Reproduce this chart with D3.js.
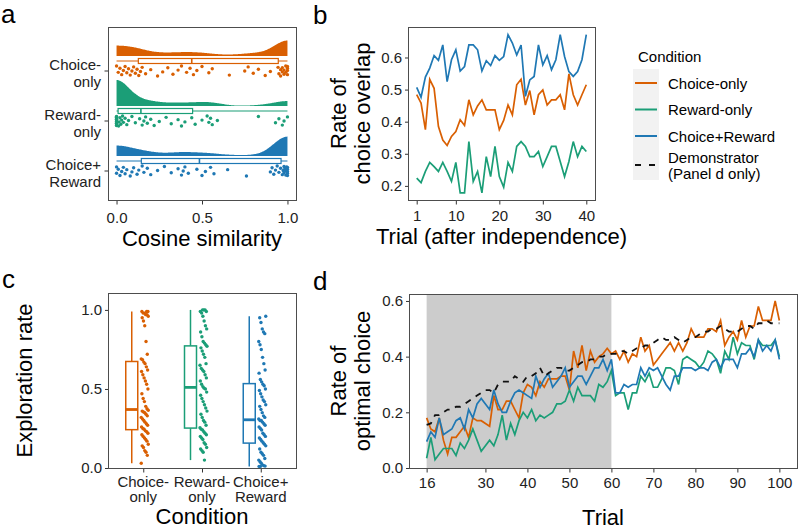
<!DOCTYPE html>
<html>
<head>
<meta charset="utf-8">
<script src="https://cdn.jsdelivr.net/npm/d3@7"></script>
<style>
  body { margin: 0; background: #fff; }
  svg { display: block; font-family: "Liberation Sans", Arial, sans-serif; }
</style>
</head>
<body>
<div class="graph"></div>
<script>
// ---- data ----
const conditions = ['Choice-only', 'Reward-only', 'Choice+Reward'];
const conditionLines = [['Choice-', 'only'], ['Reward-', 'only'], ['Choice+', 'Reward']];
const colors = ['#D95F02', '#1B9E77', '#1F78B4'];

// a: cosine similarity (one value per participant)
const cosChoiceOnly = [0.0,0.01,0.02,0.03,0.04,0.05,0.06,0.07,0.08,0.09,0.1,0.11,0.12,
  0.13,0.14,0.15,0.17,0.2,0.24,0.27,0.3,0.33,0.36,0.38,0.41,0.43,
  0.45,0.47,0.5,0.54,0.56,0.66,0.75,0.77,0.8,0.83,0.87,0.9,0.945,
  0.95,0.96,0.96,0.97,0.97,0.98,0.98,0.99,0.99,1.0,1.0,1.0,1.0];
const cosRewardOnly = [0,0,0,0,0,0,0,0,0,0,0,0,0,
  0.012,0.015,0.02,0.025,0.03,0.035,0.04,0.05,0.06,0.07,0.09,0.11,0.135,
  0.15,0.16,0.17,0.18,0.2,0.22,0.25,0.29,0.32,0.36,0.38,0.4,0.44,
  0.46,0.5,0.53,0.54,0.55,0.56,0.59,0.83,0.93,0.95,0.97,0.98,1.0];
const cosChoiceReward = [0,0,0.01,0.02,0.03,0.04,0.05,0.06,0.08,0.09,0.1,0.12,0.13,
  0.15,0.16,0.18,0.2,0.24,0.28,0.32,0.36,0.38,0.39,0.4,0.42,0.47,
  0.5,0.52,0.55,0.57,0.65,0.76,0.9,0.91,0.92,0.93,0.94,0.95,0.96,
  0.97,0.975,0.98,0.98,0.985,0.99,0.99,0.995,1,1,1,1,1];

// b: rate of choice overlap, trials 1..40 after independence
const overlapChoiceOnly = [0.484,0.458,0.375,0.532,0.504,0.385,0.343,0.326,0.354,0.369,
  0.406,0.388,0.468,0.421,0.449,0.468,0.437,0.437,0.437,0.375,
  0.404,0.452,0.421,0.515,0.532,0.452,0.497,0.421,0.484,0.499,
  0.452,0.468,0.468,0.484,0.437,0.549,0.484,0.452,0.484,0.515];
const overlapRewardOnly = [0.224,0.210,0.245,0.273,0.260,0.245,0.273,0.245,0.214,0.273,
  0.178,0.178,0.338,0.214,0.245,0.178,0.291,0.229,0.323,0.229,
  0.196,0.273,0.245,0.323,0.338,0.323,0.291,0.291,0.307,0.260,
  0.291,0.323,0.323,0.276,0.229,0.276,0.338,0.291,0.323,0.307];
const overlapChoiceReward = [0.507,0.476,0.539,0.567,0.606,0.591,0.639,0.525,0.593,0.624,
  0.558,0.572,0.639,0.639,0.624,0.558,0.590,0.575,0.606,0.591,
  0.603,0.671,0.645,0.608,0.639,0.479,0.530,0.541,0.639,0.577,
  0.606,0.562,0.593,0.671,0.603,0.556,0.541,0.556,0.593,0.671];

// c: exploration rate (one value per participant)
const exploreChoiceOnly = [0.03,0.08,0.1,0.11,0.13,0.14,0.15,0.17,0.18,0.19,0.2,0.21,0.22,0.23,0.235,
  0.245,0.25,0.26,0.27,0.28,0.29,0.3,0.31,0.32,0.33,0.34,0.35,0.355,0.36,0.365,
  0.375,0.39,0.42,0.44,0.47,0.5,0.53,0.55,0.57,0.59,0.61,0.62,0.64,0.66,0.67,
  0.685,0.69,0.72,0.8,0.9,0.93,0.95,0.96,0.97,0.97,0.98,0.98,0.99,0.99,0.99];
const exploreRewardOnly = [0.05,0.1,0.11,0.12,0.13,0.15,0.16,0.18,0.19,0.2,0.21,0.22,0.23,0.24,0.245,
  0.255,0.27,0.29,0.3,0.32,0.34,0.36,0.38,0.4,0.42,0.44,0.46,0.48,0.5,0.505,
  0.515,0.53,0.55,0.57,0.59,0.61,0.62,0.63,0.65,0.66,0.7,0.72,0.74,0.76,0.77,
  0.78,0.79,0.8,0.83,0.86,0.88,0.9,0.93,0.96,0.98,0.99,0.99,1.0,1.0,1.0];
const exploreChoiceReward = [0.01,0.01,0.012,0.015,0.02,0.03,0.04,0.05,0.06,0.08,0.09,0.1,0.12,0.14,0.15,
  0.16,0.17,0.18,0.19,0.2,0.21,0.22,0.24,0.25,0.26,0.27,0.28,0.29,0.3,0.3,
  0.31,0.32,0.33,0.35,0.37,0.39,0.4,0.42,0.43,0.45,0.47,0.49,0.5,0.52,0.53,
  0.545,0.56,0.6,0.62,0.66,0.7,0.75,0.78,0.8,0.85,0.86,0.88,0.92,0.95,0.96];

// d: rate of optimal choice, trials 16..100
const optimalTrials = d3.range(16, 101);
const optimalChoiceOnly = [0.18,0.14,0.13,0.18,0.10,0.05,0.11,0.11,0.13,0.15,
  0.11,0.18,0.17,0.17,0.16,0.15,0.26,0.21,0.21,0.24,
  0.24,0.21,0.18,0.27,0.30,0.29,0.26,0.31,0.29,0.32,
  0.32,0.32,0.33,0.33,0.28,0.42,0.36,0.44,0.35,0.42,
  0.38,0.40,0.41,0.43,0.41,0.42,0.39,0.42,0.38,0.41,
  0.40,0.47,0.42,0.44,0.37,0.39,0.41,0.43,0.45,0.42,
  0.45,0.42,0.45,0.50,0.47,0.47,0.47,0.50,0.50,0.49,
  0.53,0.44,0.47,0.49,0.46,0.53,0.47,0.51,0.51,0.58,
  0.53,0.53,0.53,0.60,0.53];
const optimalRewardOnly = [0.035,0.11,0.03,0.05,0.07,0.07,0.07,0.045,0.09,0.07,
  0.10,0.14,0.10,0.06,0.08,0.10,0.08,0.12,0.19,0.10,
  0.16,0.12,0.17,0.20,0.18,0.21,0.17,0.19,0.18,0.19,
  0.20,0.23,0.23,0.24,0.28,0.24,0.29,0.26,0.26,0.26,
  0.24,0.30,0.29,0.31,0.35,0.26,0.27,0.27,0.21,0.27,
  0.27,0.33,0.31,0.34,0.29,0.29,0.32,0.36,0.36,0.35,
  0.30,0.39,0.40,0.39,0.38,0.36,0.38,0.42,0.41,0.39,
  0.34,0.42,0.39,0.47,0.41,0.45,0.44,0.44,0.39,0.46,
  0.44,0.44,0.44,0.46,0.40];
const optimalChoiceReward = [0.095,0.13,0.11,0.18,0.12,0.13,0.14,0.17,0.18,0.14,
  0.21,0.18,0.23,0.25,0.23,0.21,0.28,0.23,0.20,0.20,
  0.24,0.27,0.28,0.27,0.26,0.25,0.33,0.29,0.32,0.34,
  0.29,0.31,0.33,0.36,0.29,0.31,0.33,0.33,0.30,0.33,
  0.36,0.36,0.39,0.35,0.39,0.27,0.27,0.30,0.29,0.30,
  0.30,0.36,0.33,0.36,0.35,0.36,0.33,0.30,0.28,0.33,
  0.33,0.36,0.36,0.36,0.35,0.36,0.36,0.35,0.38,0.39,
  0.36,0.39,0.39,0.39,0.36,0.41,0.41,0.43,0.40,0.46,
  0.42,0.44,0.42,0.46,0.39];
const optimalDemonstrator = [0.155,0.16,0.19,0.19,0.20,0.21,0.21,0.22,0.22,0.23,
  0.24,0.25,0.26,0.27,0.28,0.28,0.27,0.30,0.31,0.31,
  0.31,0.33,0.32,0.31,0.33,0.33,0.34,0.36,0.33,0.34,
  0.35,0.36,0.36,0.35,0.35,0.36,0.37,0.38,0.38,0.39,
  0.39,0.40,0.40,0.41,0.41,0.41,0.42,0.42,0.41,0.42,
  0.43,0.43,0.44,0.44,0.45,0.46,0.47,0.46,0.46,0.47,
  0.46,0.45,0.46,0.47,0.47,0.48,0.49,0.49,0.50,0.50,
  0.51,0.50,0.49,0.49,0.49,0.50,0.51,0.51,0.50,0.52,
  0.52,0.53,0.52,0.52,0.52];
const independentPhase = [16, 60];

const legendLabels = ['Choice-only', 'Reward-only', 'Choice+Reward', 'Demonstrator', '(Panel d only)'];

// ---- setup ----
const FONT = '"Liberation Sans", Arial, sans-serif';
const svg = d3.select('.graph').append('svg').attr('width', 800).attr('height', 530);
const jit = i => ((i * 37) % 23) / 22 - 0.5; // spread for overlapping dots

function frame(x0, y0, x1, y1) {
  svg.append('rect').attr('x', x0 + 0.5).attr('y', y0 + 0.5)
    .attr('width', x1 - x0).attr('height', y1 - y0)
    .attr('fill', 'none').attr('stroke', '#4d4d4d').attr('stroke-width', 1);
}
function styleAxis(g) {
  g.attr('font-size', 15).attr('font-family', FONT);
  g.select('.domain').remove();
  g.selectAll('.tick line').attr('stroke', '#333');
  g.selectAll('.tick text').attr('fill', '#222');
}
function label(x, y, txt, size, opts = {}) {
  const t = svg.append('text').attr('x', x).attr('y', y).text(txt)
    .attr('font-size', size).attr('font-family', FONT).attr('fill', opts.fill || '#000')
    .attr('text-anchor', opts.anchor || 'middle');
  if (opts.rotate) t.attr('transform', `rotate(-90,${x},${y})`);
  return t;
}
function boxStats(vals) {
  const s = vals.slice().sort(d3.ascending);
  const q1 = d3.quantile(s, 0.25), med = d3.quantile(s, 0.5), q3 = d3.quantile(s, 0.75);
  const iqr = q3 - q1;
  const lo = d3.min(s.filter(v => v >= q1 - 1.5 * iqr));
  const hi = d3.max(s.filter(v => v <= q3 + 1.5 * iqr));
  return { q1, med, q3, lo, hi };
}
// gaussian kde, reflected at 0 and 1
function kde(vals, bw) {
  const k = u => Math.exp(-0.5 * u * u) / Math.sqrt(2 * Math.PI);
  return d3.range(0, 1.0001, 0.005).map(g => [g,
    d3.sum(vals, v => k((g - v) / bw) + k((g + v) / bw) + k((g - (2 - v)) / bw)) / (vals.length * bw)]);
}

// panel letters
label(1, 23, 'a', 26, { anchor: 'start' });
label(313, 24, 'b', 26, { anchor: 'start' });
label(2, 288, 'c', 26, { anchor: 'start' });
label(313, 290, 'd', 26, { anchor: 'start' });

// ---- panel a: raincloud of cosine similarity ----
{
  const cosData = [cosChoiceOnly, cosRewardOnly, cosChoiceReward];
  const x = d3.scaleLinear().domain([-0.05, 1.05]).range([108, 296]);
  const y = d3.scalePoint().domain(conditions).range([71, 171]);
  const dens = cosData.map(v => kde(v, 0.07));
  const maxD = d3.max(dens, d => d3.max(d, p => p[1]));
  const h = d3.scaleLinear().domain([0, maxD]).range([0, 26]);
  const g = svg.append('g');

  conditions.forEach((c, i) => {
    const cy = y(c);
    const base = cy - 15;
    g.append('path').datum(dens[i])
      .attr('d', d3.area().x(p => x(p[0])).y0(base).y1(p => base - h(p[1])).curve(d3.curveBasis))
      .attr('fill', colors[i]);

    const st = boxStats(cosData[i]);
    const by = cy - 10;
    g.append('line').attr('x1', x(st.lo)).attr('x2', x(st.hi)).attr('y1', by).attr('y2', by)
      .attr('stroke', colors[i]).attr('stroke-width', 1.2);
    g.append('rect').attr('x', x(st.q1)).attr('y', by - 2.5)
      .attr('width', x(st.q3) - x(st.q1)).attr('height', 5)
      .attr('fill', '#fff').attr('stroke', colors[i]).attr('stroke-width', 1.2);
    g.append('line').attr('x1', x(st.med)).attr('x2', x(st.med)).attr('y1', by - 2.5).attr('y2', by + 2.5)
      .attr('stroke', colors[i]).attr('stroke-width', 1.6);

    g.selectAll(null).data(cosData[i]).enter().append('circle')
      .attr('cx', d => x(d)).attr('cy', (d, j) => cy + jit(j + i * 5) * 10)
      .attr('r', 1.7).attr('fill', colors[i]);

    // category labels
    g.append('text').attr('x', 101).attr('y', cy - 1.5).text(conditionLines[i][0])
      .attr('text-anchor', 'end').attr('font-size', 15).attr('font-family', FONT).attr('fill', '#222');
    g.append('text').attr('x', 101).attr('y', cy + 15.5).text(conditionLines[i][1])
      .attr('text-anchor', 'end').attr('font-size', 15).attr('font-family', FONT).attr('fill', '#222');
    g.append('line').attr('x1', 104.5).attr('x2', 108).attr('y1', cy).attr('y2', cy).attr('stroke', '#333');
  });

  const ax = svg.append('g').attr('transform', 'translate(0,200.5)')
    .call(d3.axisBottom(x).tickValues([0, 0.5, 1]).tickFormat(d3.format('.1f')).tickSize(4).tickPadding(8));
  styleAxis(ax);
  frame(108, 27, 296, 200);
  label(202, 246, 'Cosine similarity', 22);
}

// ---- panel b: choice overlap ----
{
  const series = [overlapChoiceOnly, overlapRewardOnly, overlapChoiceReward];
  const trials = d3.range(1, 41);
  const x = d3.scaleLinear().domain([-1.0, 42.0]).range([408, 595]);
  const y = d3.scaleLinear().domain([0.156, 0.695]).range([200, 27]);
  const line = d3.line().x((d, i) => x(trials[i])).y(d => y(d));
  series.forEach((s, i) => {
    svg.append('path').datum(s).attr('d', line)
      .attr('fill', 'none').attr('stroke', colors[i]).attr('stroke-width', 1.7);
  });
  const ax = svg.append('g').attr('transform', 'translate(0,200.5)')
    .call(d3.axisBottom(x).tickValues([1, 10, 20, 30, 40]).tickSize(4).tickPadding(6));
  styleAxis(ax);
  const ay = svg.append('g').attr('transform', 'translate(408.5,0)')
    .call(d3.axisLeft(y).tickValues([0.2, 0.3, 0.4, 0.5, 0.6]).tickFormat(d3.format('.1f')).tickSize(3.5).tickPadding(3));
  styleAxis(ay);
  frame(408, 27, 595, 200);
  label(501.5, 244, 'Trial (after independence)', 22);
  label(346, 113.5, 'Rate of', 22, { rotate: true });
  label(369.5, 113.5, 'choice overlap', 22, { rotate: true });
}

// ---- legend ----
{
  const lg = svg.append('g');
  label(638, 62, 'Condition', 15, { anchor: 'start' });
  lg.append('rect').attr('x', 633).attr('y', 69).attr('width', 26).attr('height', 111).attr('fill', '#f2f2f2');
  const rows = [83, 109.5, 136];
  rows.forEach((ry, i) => {
    lg.append('line').attr('x1', 635).attr('x2', 657).attr('y1', ry).attr('y2', ry)
      .attr('stroke', colors[i]).attr('stroke-width', 2);
    label(668, ry + 5.5, legendLabels[i], 15, { anchor: 'start' });
  });
  lg.append('line').attr('x1', 635).attr('x2', 657).attr('y1', 165).attr('y2', 165)
    .attr('stroke', '#111').attr('stroke-width', 2).attr('stroke-dasharray', '6,8');
  label(668, 163, legendLabels[3], 15, { anchor: 'start' });
  label(668, 179, legendLabels[4], 15, { anchor: 'start' });
}

// ---- panel c: exploration rate ----
{
  const expData = [exploreChoiceOnly, exploreRewardOnly, exploreChoiceReward];
  const x = d3.scalePoint().domain(conditions).range([108, 296]).padding(0.6);
  const y = d3.scaleLinear().domain([0, 1.107]).range([468, 293]);
  const g = svg.append('g');
  conditions.forEach((c, i) => {
    const cx = x(c);
    const bx = cx - 11.5;
    const st = boxStats(expData[i]);
    g.append('line').attr('x1', bx).attr('x2', bx).attr('y1', y(st.hi)).attr('y2', y(st.q3))
      .attr('stroke', colors[i]).attr('stroke-width', 1.5);
    g.append('line').attr('x1', bx).attr('x2', bx).attr('y1', y(st.q1)).attr('y2', y(st.lo))
      .attr('stroke', colors[i]).attr('stroke-width', 1.5);
    g.append('rect').attr('x', bx - 6).attr('y', y(st.q3)).attr('width', 12)
      .attr('height', y(st.q1) - y(st.q3))
      .attr('fill', '#fff').attr('stroke', colors[i]).attr('stroke-width', 1.5);
    g.append('line').attr('x1', bx - 6).attr('x2', bx + 6).attr('y1', y(st.med)).attr('y2', y(st.med))
      .attr('stroke', colors[i]).attr('stroke-width', 2.8);
    g.selectAll(null).data(expData[i]).enter().append('circle')
      .attr('cx', (d, j) => cx + 1.5 + jit(j * 3 + i) * 7).attr('cy', d => y(d))
      .attr('r', 1.7).attr('fill', colors[i]);
    label(cx, 486.5, conditionLines[i][0], 15, { fill: '#222' });
    label(cx, 502, conditionLines[i][1], 15, { fill: '#222' });
  });
  const ax = svg.append('g').attr('transform', 'translate(0,468.5)')
    .call(d3.axisBottom(x).tickFormat('').tickSize(4));
  styleAxis(ax);
  const ay = svg.append('g').attr('transform', 'translate(108.5,0)')
    .call(d3.axisLeft(y).tickValues([0, 0.5, 1]).tickFormat(d3.format('.1f')).tickSize(3.5).tickPadding(3));
  styleAxis(ay);
  frame(108, 293, 296, 468);
  label(202, 524, 'Condition', 22);
  label(32, 380.5, 'Exploration rate', 22, { rotate: true });
}

// ---- panel d: optimal choice ----
{
  const series = [optimalChoiceOnly, optimalRewardOnly, optimalChoiceReward];
  const x = d3.scaleLinear().domain([11.8, 104.2]).range([409, 797]);
  const y = d3.scaleLinear().domain([0, 0.625]).range([468, 294]);
  svg.append('rect').attr('x', x(independentPhase[0])).attr('y', 294)
    .attr('width', x(independentPhase[1]) - x(independentPhase[0])).attr('height', 174)
    .attr('fill', '#cccccc');
  const line = d3.line().x((d, i) => x(optimalTrials[i])).y(d => y(d));
  series.forEach((s, i) => {
    svg.append('path').datum(s).attr('d', line)
      .attr('fill', 'none').attr('stroke', colors[i]).attr('stroke-width', 1.7);
  });
  svg.append('path').datum(optimalDemonstrator).attr('d', line)
    .attr('fill', 'none').attr('stroke', '#111').attr('stroke-width', 1.8)
    .attr('stroke-dasharray', '6,6');
  const ax = svg.append('g').attr('transform', 'translate(0,468.5)')
    .call(d3.axisBottom(x).tickValues([16, 30, 40, 50, 60, 70, 80, 90, 100]).tickSize(4).tickPadding(5));
  styleAxis(ax);
  const ay = svg.append('g').attr('transform', 'translate(409.5,0)')
    .call(d3.axisLeft(y).tickValues([0, 0.2, 0.4, 0.6]).tickFormat(d3.format('.1f')).tickSize(3.5).tickPadding(3));
  styleAxis(ay);
  frame(409, 294, 797, 468);
  label(603, 525, 'Trial', 22);
  label(346, 381, 'Rate of', 22, { rotate: true });
  label(369.5, 381, 'optimal choice', 22, { rotate: true });
}
</script>
</body>
</html>
